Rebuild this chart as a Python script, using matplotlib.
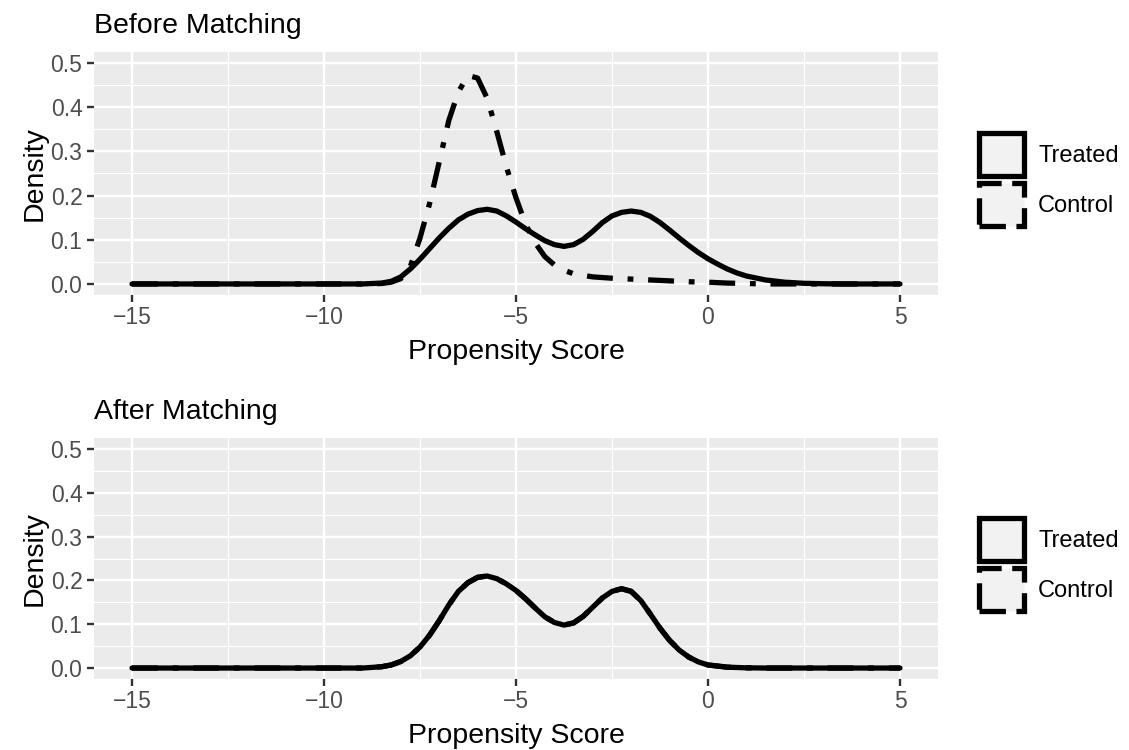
import matplotlib
matplotlib.use('Agg')
import matplotlib.pyplot as plt
from matplotlib.patches import Patch

plt.rcParams['font.family'] = ['Liberation Sans', 'DejaVu Sans']

# density curves
x_treat_before = [-15, -9, -8.5, -8.25, -8, -7.75, -7.5, -7.25, -7, -6.75, -6.5, -6.25, -6,
                  -5.75, -5.5, -5.25, -5, -4.75, -4.5, -4.25, -4, -3.75, -3.5, -3.25, -3,
                  -2.75, -2.5, -2.25, -2, -1.75, -1.5, -1.25, -1, -0.75, -0.5, -0.25, 0,
                  0.25, 0.5, 0.75, 1, 1.5, 2, 2.5, 3, 3.5, 5]
y_treat_before = [0, 0, 0.002, 0.006, 0.016, 0.034, 0.056, 0.080, 0.104, 0.126, 0.145, 0.158, 0.166,
                  0.169, 0.165, 0.154, 0.140, 0.125, 0.111, 0.098, 0.089, 0.085, 0.089, 0.101, 0.119,
                  0.139, 0.154, 0.162, 0.165, 0.162, 0.153, 0.139, 0.122, 0.104, 0.087, 0.071, 0.057,
                  0.045, 0.034, 0.025, 0.018, 0.009, 0.004, 0.0015, 0.0005, 0, 0]

x_ctrl_before = [-15, -9, -8.5, -8.25, -8, -7.75, -7.5, -7.25, -7, -6.75, -6.5, -6.25, -6,
                 -5.75, -5.5, -5.25, -5, -4.75, -4.5, -4.25, -4, -3.75, -3.5, -3, -2.5,
                 -2, -1.5, -1, -0.5, 0, 0.5, 1, 1.5, 2, 5]
y_ctrl_before = [0, 0, 0.001, 0.004, 0.012, 0.040, 0.104, 0.182, 0.276, 0.370, 0.435, 0.472, 0.466,
                 0.420, 0.345, 0.265, 0.195, 0.135, 0.093, 0.062, 0.043, 0.031, 0.023, 0.016, 0.013,
                 0.011, 0.009, 0.007, 0.005, 0.004, 0.002, 0.001, 0.0, 0, 0]

x_after = [-15, -9, -8.5, -8.25, -8, -7.75, -7.5, -7.25, -7, -6.75, -6.5, -6.25, -6,
           -5.75, -5.5, -5.25, -5, -4.75, -4.5, -4.25, -4, -3.75, -3.5, -3.25, -3,
           -2.75, -2.5, -2.25, -2, -1.75, -1.5, -1.25, -1, -0.75, -0.5, -0.25, 0,
           0.5, 1, 1.5, 5]
y_treat_after = [0, 0, 0.003, 0.007, 0.015, 0.028, 0.048, 0.075, 0.108, 0.144, 0.175, 0.195, 0.207,
                 0.210, 0.204, 0.192, 0.177, 0.158, 0.137, 0.117, 0.104, 0.098, 0.103, 0.118, 0.139,
                 0.160, 0.175, 0.181, 0.175, 0.154, 0.123, 0.091, 0.063, 0.041, 0.025, 0.014, 0.007,
                 0.002, 0.0005, 0, 0]
y_ctrl_after = list(y_treat_after)

x_ticks = [-15, -10, -5, 0, 5]
y_ticks = [0.0, 0.1, 0.2, 0.3, 0.4, 0.5]
groups = ['Treated', 'Control']

W, H = 1129, 750
fig = plt.figure(figsize=(W / 100, H / 100), dpi=100)

LW = 3.8
ctrl_dash = (0, (4.9, 2.8, 1.1, 2.8))
bg = '#EBEBEB'
FS_TICK = 16.5
FS_LEG = 17
FS_TITLE = 20.5


def panel(top, bottom, title, xt, yt, xc, yc):
    ax = fig.add_axes([93.6 / W, 1 - bottom / H, (938.4 - 93.6) / W, (bottom - top) / H])
    ax.set_facecolor(bg)
    for s in ax.spines.values():
        s.set_visible(False)
    ax.set_xlim(-16, 6)
    ax.set_ylim(-0.025, 0.525)
    ax.set_xticks(x_ticks)
    ax.set_xticks([-12.5, -7.5, -2.5, 2.5], minor=True)
    ax.set_yticks(y_ticks)
    ax.set_yticks([0.05, 0.15, 0.25, 0.35, 0.45], minor=True)
    ax.set_yticklabels(['%.1f' % v for v in y_ticks])
    ax.grid(which='major', color='white', lw=1.7)
    ax.grid(which='minor', color='white', lw=0.85)
    ax.set_axisbelow(True)
    ax.tick_params(which='major', length=5, width=1.7, color='#333333',
                   labelsize=FS_TICK, labelcolor='#4D4D4D', pad=3)
    ax.tick_params(which='minor', length=0)
    ax.plot(xc, yc, color='black', lw=LW, linestyle=ctrl_dash, dash_capstyle='butt')
    ax.plot(xt, yt, color='black', lw=LW, solid_capstyle='round', solid_joinstyle='round')
    ax.set_xlabel('Propensity Score', fontsize=FS_TITLE, labelpad=7)
    ax.set_ylabel('Density', fontsize=FS_TITLE, labelpad=2)
    ax.set_title(title, loc='left', fontsize=FS_TITLE, pad=14)
    handles = [Patch(facecolor='#F2F2F2', edgecolor='black', lw=LW),
               Patch(facecolor='#F2F2F2', edgecolor='black', lw=LW, linestyle=(0, (5, 2)))]
    fig.legend(handles, groups, loc='center left',
               bbox_to_anchor=(979 / W, 1 - (top + bottom + 12) / 2 / H),
               frameon=False, fontsize=FS_LEG, handlelength=1.9, handleheight=2.4,
               labelspacing=0.3, handletextpad=0.6, borderpad=0, borderaxespad=0)
    return ax


panel(52, 295, 'Before Matching', x_treat_before, y_treat_before, x_ctrl_before, y_ctrl_before)
panel(438, 679, 'After Matching', x_after, y_treat_after, x_after, y_ctrl_after)

fig.savefig('out.png', dpi=100)
